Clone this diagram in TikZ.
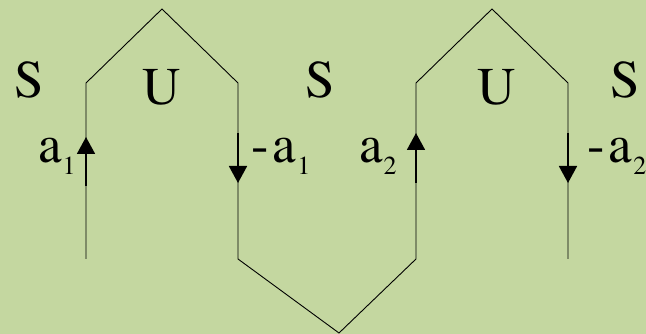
\documentclass[tikz,border=0pt]{standalone}
\usepackage{fontspec}
\setmainfont{TeX Gyre Termes}
\usetikzlibrary{arrows.meta}
\definecolor{bg}{RGB}{196,215,160}
\newcommand\mysub[1]{\kern1pt\raisebox{-12pt}{\fontsize{26}{26}\selectfont #1}}
\begin{document}
\begin{tikzpicture}[x=1pt,y=-1pt,
  wire/.style={draw=black, line width=0.9pt, line join=miter},
  arr/.style={draw=black, line width=1.8pt, -{Triangle[length=17pt,width=18pt]}},
  big/.style={font=\fontsize{53}{53}\selectfont, inner sep=0pt, anchor=base},
  lab/.style={font=\fontsize{53}{53}\selectfont, inner sep=0pt, anchor=base west}]
\fill[bg] (0,0) rectangle (646,334);
\useasboundingbox (0,0) rectangle (646,334);
% path corners
\coordinate (p0) at (86,259);
\coordinate (p1) at (86,83);
\coordinate (p2) at (162,9);
\coordinate (p3) at (238,83);
\coordinate (p4) at (238,259);
\coordinate (p5) at (339,333);
\coordinate (p6) at (416,259);
\coordinate (p7) at (416,83);
\coordinate (p8) at (492,9);
\coordinate (p9) at (568,83);
\coordinate (p10) at (568,259);
\draw[wire] (p0) -- (p1) -- (p2) -- (p3) -- (p4) -- (p5) -- (p6) -- (p7) -- (p8) -- (p9) -- (p10);
% arrows
\coordinate (a1s) at (86,186);  \coordinate (a1e) at (86,137);
\coordinate (a2s) at (238,133); \coordinate (a2e) at (238,183);
\coordinate (a3s) at (416,183); \coordinate (a3e) at (416,133);
\coordinate (a4s) at (568,133); \coordinate (a4e) at (568,183);
\draw[arr] (a1s) -- (a1e);
\draw[arr] (a2s) -- (a2e);
\draw[arr] (a3s) -- (a3e);
\draw[arr] (a4s) -- (a4e);
% region labels
\node[big] (S1) at (29,98) {S};
\node[big] (U1) at (162,105) {U};
\node[big] (S2) at (320,98) {S};
\node[big] (U2) at (497,105) {U};
\node[big] (S3) at (625,98) {S};
% arrow labels
\node[lab] (A1) at (38,163) {a\mysub{1}};
\node[lab] (M1) at (251,163) {-\kern4pt a\mysub{1}};
\node[lab] (A2) at (359,163) {a\mysub{2}};
\node[lab] (M2) at (587,163) {-\kern4pt a\mysub{2}};
\end{tikzpicture}
\end{document}
